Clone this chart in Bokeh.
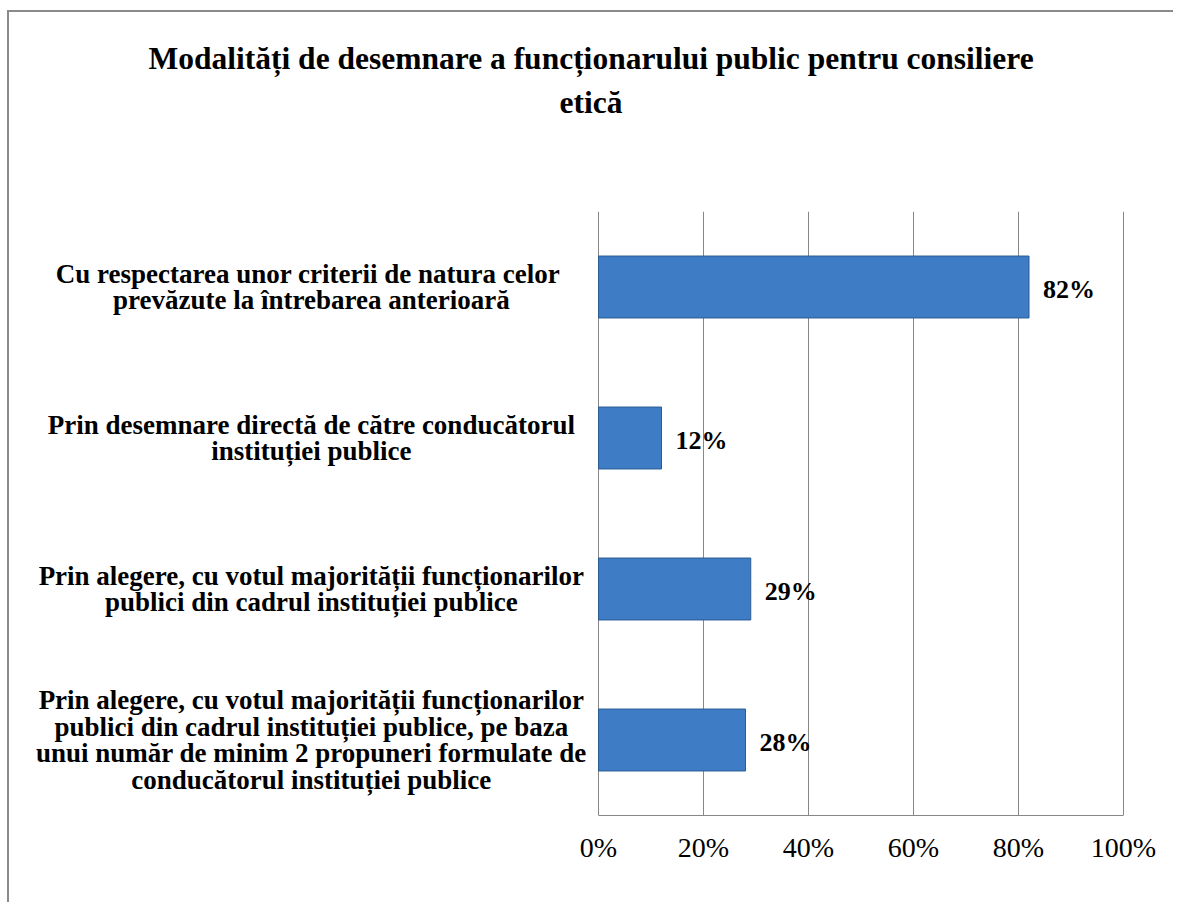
from bokeh.plotting import figure
from bokeh.models import (ColumnDataSource, FactorRange, Range1d, FixedTicker,
                          PrintfTickFormatter, LabelSet, Title)
from bokeh.embed import file_html
from bokeh.resources import INLINE

# ---- data ----
categories = [
    "Cu respectarea unor criterii  de natura celor\nprevăzute la întrebarea anterioară",
    "Prin desemnare directă de către conducătorul\ninstituției publice",
    "Prin alegere, cu votul majorității funcționarilor\npublici din cadrul instituției publice",
    "Prin alegere, cu votul majorității funcționarilor\npublici din cadrul instituției publice, pe baza\nunui număr de minim 2 propuneri formulate de\nconducătorul instituției publice",
]
values = [82, 12, 29, 28]
value_labels = ["82%", "12%", "29%", "28%"]
x_ticks = [0, 20, 40, 60, 80, 100]
title_lines = ["Modalități de desemnare a funcționarului public pentru consiliere", "etică"]

SERIF = "Liberation Serif"
GRID = "#878787"
LABEL_CENTER = -54.7   # x position (axis units) of the centre of the category text blocks
LINE_PITCH = 26.5      # px between lines of a category label

src = ColumnDataSource(dict(cat=categories, val=values, lab=value_labels))

# one row per text line of each category label, so every line is centred
l_cat, l_txt, l_off = [], [], []
for c in categories:
    parts = c.split("\n")
    n = len(parts)
    for i, t in enumerate(parts):
        l_cat.append(c)
        l_txt.append(t)
        l_off.append(((n - 1) / 2 - i) * LINE_PITCH)
lsrc = ColumnDataSource(dict(cat=l_cat, txt=l_txt, off=l_off, lx=[LABEL_CENTER] * len(l_cat)))

p = figure(
    width=1166, height=892,
    y_range=FactorRange(factors=categories[::-1]),
    x_range=Range1d(-112.19, 100.19),
    output_backend="svg", toolbar_location=None,
    min_border_left=0, min_border_right=51, min_border_top=199, min_border_bottom=89,
)
p.styles = {"border-left": "2px solid #8a8a8a", "border-top": "2px solid #8a8a8a",
            "margin-left": "7px", "margin-top": "10px"}
p.outline_line_color = None
p.background_fill_color = "white"
p.border_fill_color = "white"

# bars
p.hbar(y="cat", right="val", left=0, height=0.41, source=src,
       fill_color="#3f7cc6", line_color="#2a5b94", line_width=1)

# value labels
p.add_layout(LabelSet(x="val", y="cat", text="lab", source=src, x_offset=14, y_offset=-2,
                      text_font=SERIF, text_font_style="bold", text_font_size="26px",
                      text_baseline="middle", text_color="black"))

# category labels (centred lines)
p.add_layout(LabelSet(x="lx", y="cat", text="txt", y_offset="off", source=lsrc,
                      text_font=SERIF, text_font_style="bold", text_font_size="27px",
                      text_align="center", text_baseline="middle", text_color="black"))

# x axis (drawn only across 0..100 %)
p.xaxis.bounds = (0, 100)
p.xaxis.ticker = FixedTicker(ticks=x_ticks)
p.xaxis.formatter = PrintfTickFormatter(format="%d%%")
p.xaxis.major_label_text_font = SERIF
p.xaxis.major_label_text_font_style = "normal"
p.xaxis.major_label_text_font_size = "28px"
p.xaxis.major_label_text_color = "black"
p.xaxis.major_label_standoff = 10
p.xaxis.major_tick_line_color = None
p.xaxis.minor_tick_line_color = None
p.xaxis.axis_line_color = GRID

p.yaxis.visible = False

p.xgrid.ticker = FixedTicker(ticks=x_ticks)
p.xgrid.grid_line_color = GRID
p.ygrid.grid_line_color = None

# title (two lines); the trailing empty line of the second one leaves the gap above the plot
p.add_layout(Title(text=title_lines[1] + "\n", align="left", offset=550, standoff=5,
                   text_font=SERIF, text_line_height=2.55,
                   text_font_style="bold", text_font_size="31.5px", text_color="black"), "above")
p.title = Title(text=title_lines[0], align="left", offset=139, standoff=10, text_font=SERIF,
                text_font_style="bold", text_font_size="31.5px", text_color="black")

open("out.html", "w").write(file_html(p, INLINE))
